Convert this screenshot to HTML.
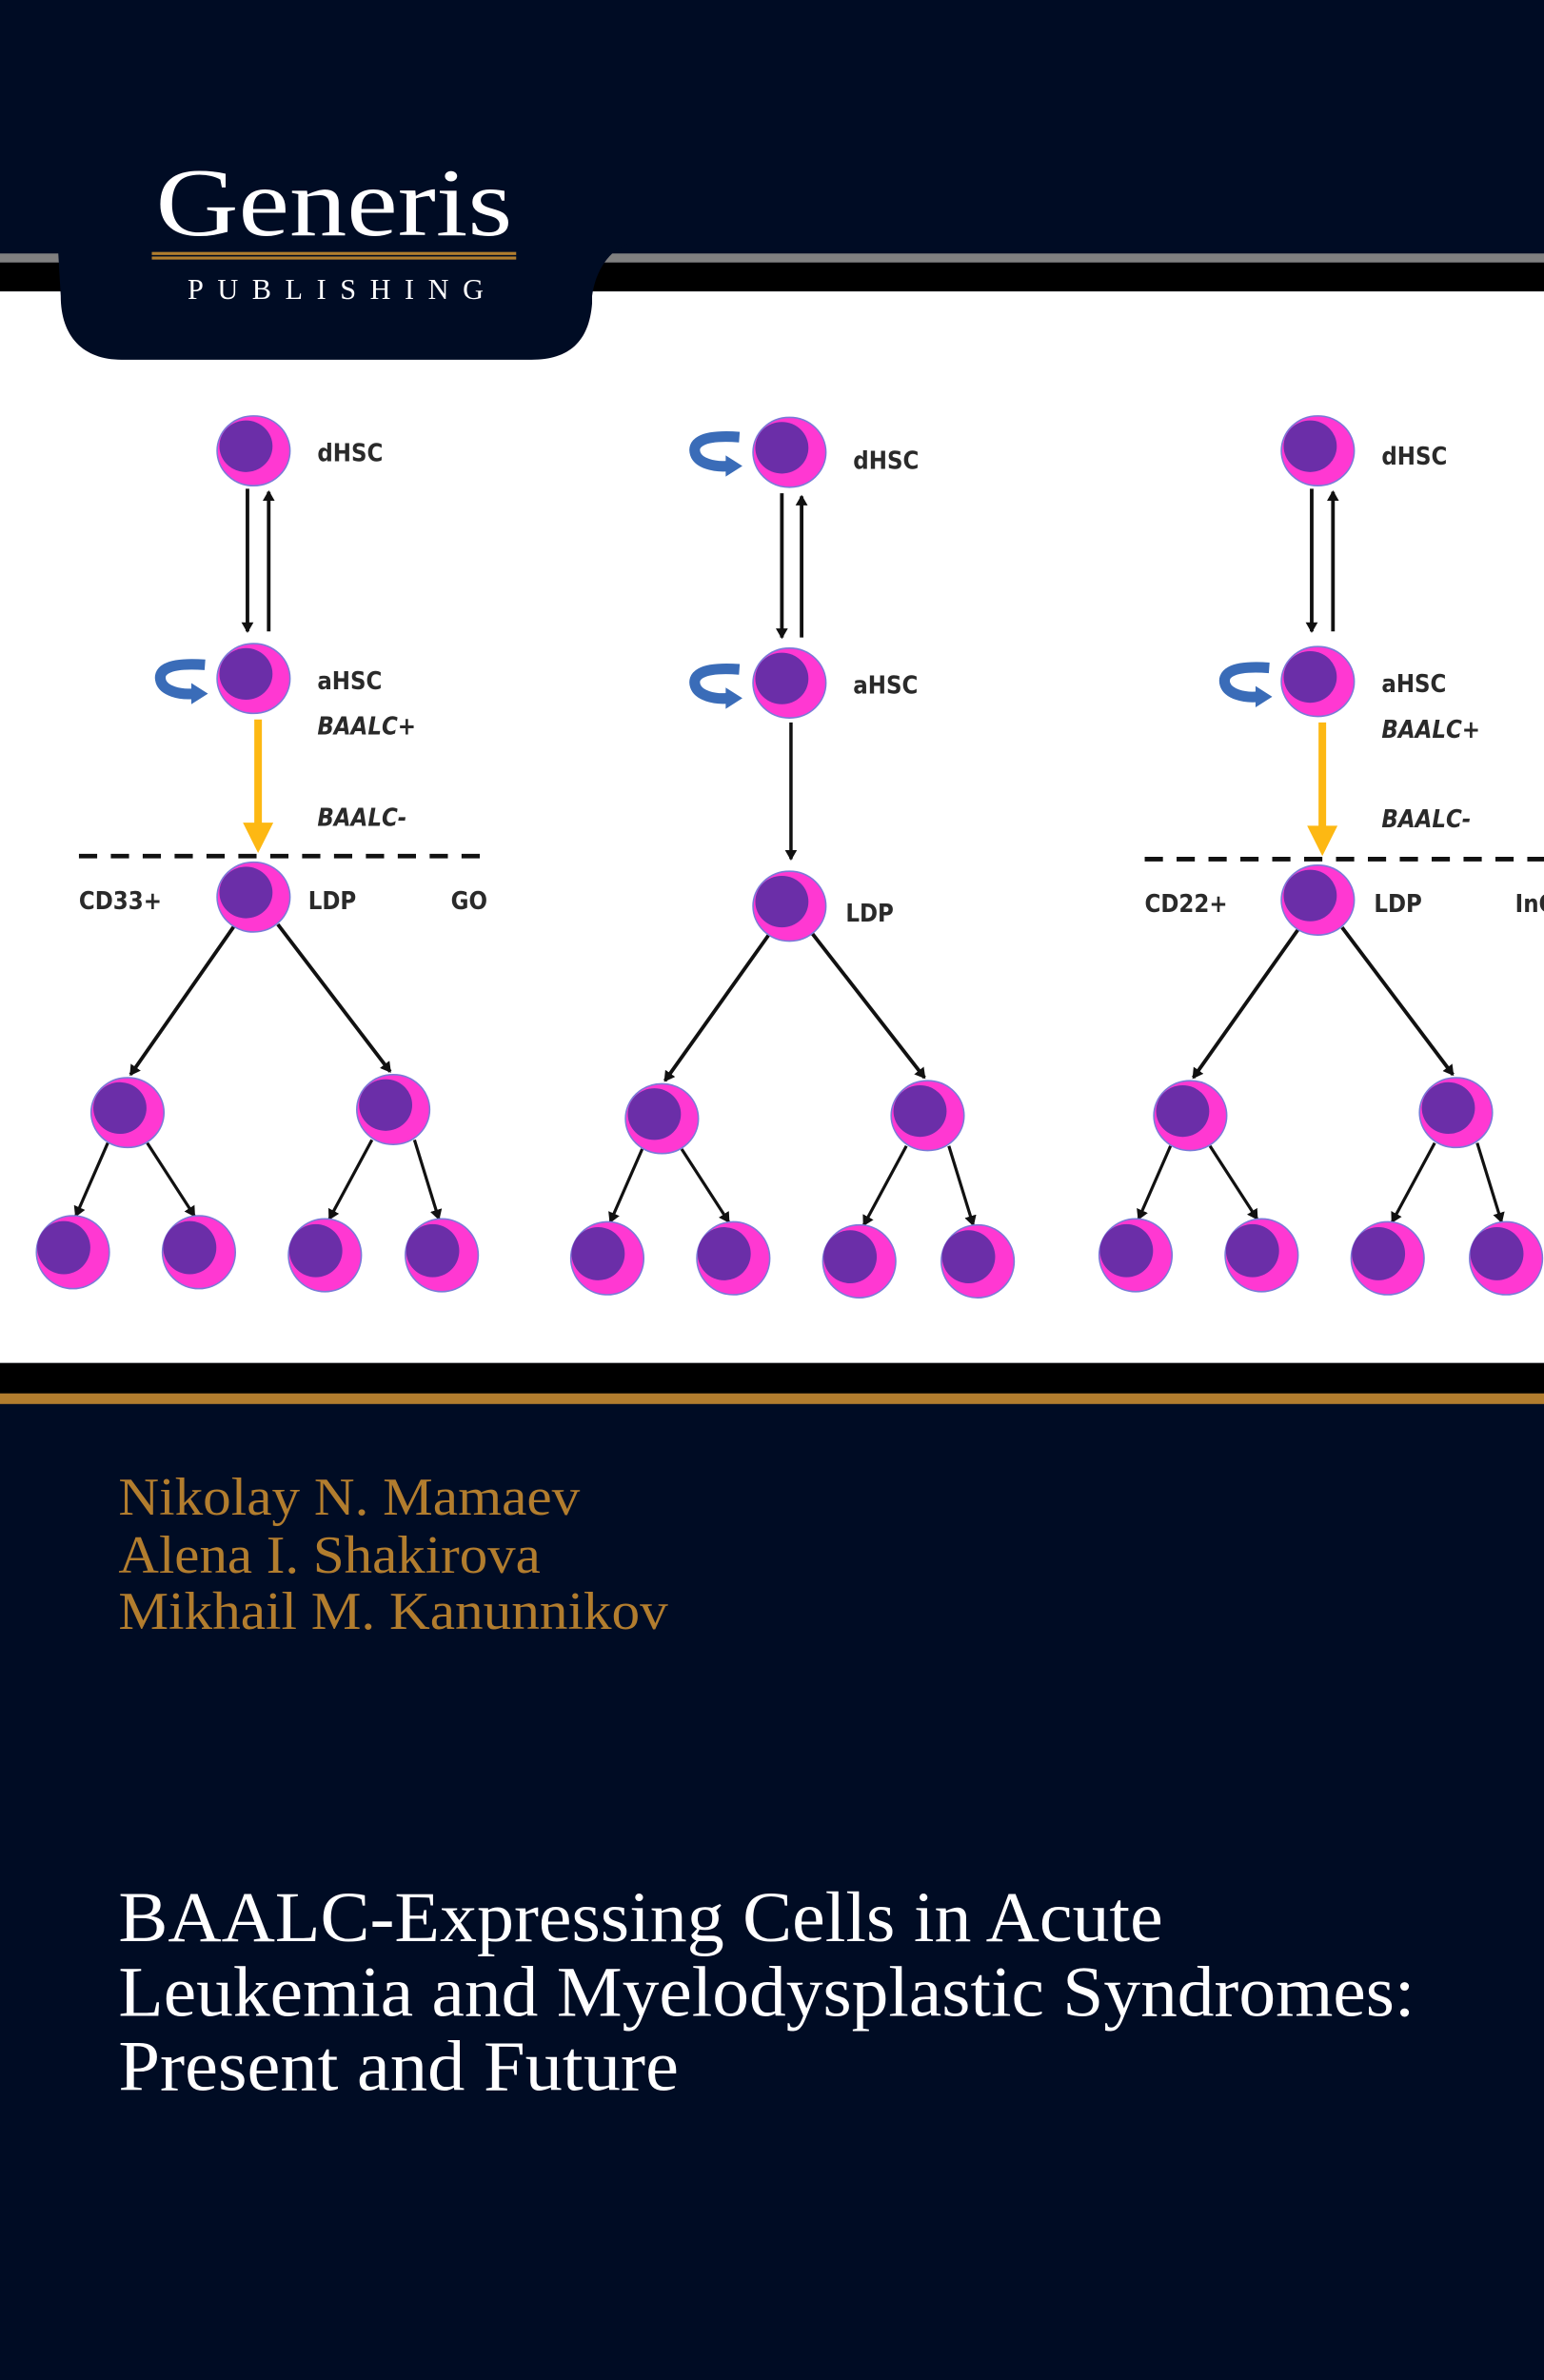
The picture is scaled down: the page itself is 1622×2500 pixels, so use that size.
<!DOCTYPE html>
<html><head><meta charset="utf-8"><style>
html,body{margin:0;padding:0;background:#000c24;}
svg{display:block;}
</style></head><body>
<svg width="1622" height="2500" viewBox="0 0 1017 1568" preserveAspectRatio="none" xmlns="http://www.w3.org/2000/svg">
<defs>
<marker id="ah" markerWidth="8" markerHeight="8" refX="6" refY="4" orient="auto" markerUnits="userSpaceOnUse"><path d="M0,0 L7,4 L0,8 z" fill="#111"/></marker>
<g id="cell"><ellipse cx="0" cy="0" rx="24" ry="23" fill="#ff38d2" stroke="#7a7ad8" stroke-width="1"/><ellipse cx="-5" cy="-3" rx="17.5" ry="17" fill="#6b2ea8"/></g>
<g id="cellb"><ellipse cx="0" cy="0" rx="24" ry="24" fill="#ff38d2" stroke="#7a7ad8" stroke-width="1"/><ellipse cx="-6" cy="-3" rx="17.5" ry="17.5" fill="#6b2ea8"/></g>
<g id="loop"><path d="M17,-11 C-10,-13 -14,-6 -12,0 C-10,6 0,9 10,8" fill="none" stroke="#3a6cb8" stroke-width="7"/><path d="M8,1 L19,8 L8,15 z" fill="#3a6cb8"/></g>
</defs>
<rect x="0" y="0" width="1017" height="1568" fill="#000c24"/>
<rect x="0" y="167" width="1017" height="6" fill="#808080"/>
<rect x="0" y="173" width="1017" height="19" fill="#000"/>
<rect x="0" y="192" width="1017" height="706" fill="#fff"/>
<rect x="0" y="898" width="1017" height="20" fill="#000"/>
<rect x="0" y="918" width="1017" height="7" fill="#b27d2e"/>
<path d="M38,160 L415,160 C400,165 392,180 390,195 L390,200 C388,225 375,237 350,237 L80,237 C55,237 40,222 40,195 Z" fill="#000c24"/>
<text x="220" y="155" text-anchor="middle" font-family="Liberation Serif, serif" font-size="64" fill="#fff" textLength="235" lengthAdjust="spacingAndGlyphs">Generis</text>
<rect x="100" y="166" width="240" height="2" fill="#b27d2e"/>
<rect x="100" y="169" width="240" height="2" fill="#b27d2e"/>
<text x="221" y="197" text-anchor="middle" font-family="Liberation Serif, serif" font-size="19" fill="#fff" textLength="195" lengthAdjust="spacing">PUBLISHING</text>

<g font-family="DejaVu Sans Condensed, DejaVu Sans, sans-serif" font-size="16" font-weight="bold" fill="#2a2a2a">
<line x1="163" y1="322" x2="163" y2="416" stroke="#111" stroke-width="2.4" marker-end="url(#ah)"/>
<line x1="177" y1="416" x2="177" y2="324" stroke="#111" stroke-width="2.4" marker-end="url(#ah)"/>
<line x1="170" y1="474" x2="170" y2="545" stroke="#fdb813" stroke-width="5"/>
<path d="M160,542 L180,542 L170,562 z" fill="#fdb813"/>
<line x1="52" y1="564" x2="318" y2="564" stroke="#111" stroke-width="3" stroke-dasharray="12,9"/>
<line x1="155" y1="609" x2="86" y2="708" stroke="#111" stroke-width="2.4" marker-end="url(#ah)"/>
<line x1="183" y1="609" x2="257" y2="706" stroke="#111" stroke-width="2.4" marker-end="url(#ah)"/>
<line x1="71" y1="753" x2="50" y2="801" stroke="#111" stroke-width="2" marker-end="url(#ah)"/>
<line x1="97" y1="753" x2="128" y2="801" stroke="#111" stroke-width="2" marker-end="url(#ah)"/>
<line x1="245" y1="751" x2="217" y2="803" stroke="#111" stroke-width="2" marker-end="url(#ah)"/>
<line x1="273" y1="751" x2="289" y2="803" stroke="#111" stroke-width="2" marker-end="url(#ah)"/>
<use href="#cell" x="167" y="297"/><use href="#cell" x="167" y="447"/><use href="#loop" x="118" y="449"/>
<use href="#cell" x="167" y="591"/>
<use href="#cell" x="84" y="733"/><use href="#cell" x="259" y="731"/>
<use href="#cellb" x="48" y="825"/><use href="#cellb" x="131" y="825"/><use href="#cellb" x="214" y="827"/><use href="#cellb" x="291" y="827"/>
<text x="209" y="304">dHSC</text><text x="209" y="454">aHSC</text>
<text x="209" y="484" font-style="italic">BAALC+</text><text x="209" y="544" font-style="italic">BAALC-</text>
<text x="52" y="599">CD33+</text><text x="203" y="599">LDP</text><text x="297" y="599">GO</text>

<line x1="515" y1="325" x2="515" y2="420" stroke="#111" stroke-width="2.4" marker-end="url(#ah)"/>
<line x1="528" y1="420" x2="528" y2="327" stroke="#111" stroke-width="2.4" marker-end="url(#ah)"/>
<line x1="521" y1="476" x2="521" y2="566" stroke="#111" stroke-width="2.2" marker-end="url(#ah)"/>
<line x1="507" y1="615" x2="438" y2="712" stroke="#111" stroke-width="2.4" marker-end="url(#ah)"/>
<line x1="535" y1="615" x2="609" y2="710" stroke="#111" stroke-width="2.4" marker-end="url(#ah)"/>
<line x1="423" y1="757" x2="402" y2="805" stroke="#111" stroke-width="2" marker-end="url(#ah)"/>
<line x1="449" y1="757" x2="480" y2="805" stroke="#111" stroke-width="2" marker-end="url(#ah)"/>
<line x1="597" y1="755" x2="569" y2="807" stroke="#111" stroke-width="2" marker-end="url(#ah)"/>
<line x1="625" y1="755" x2="641" y2="807" stroke="#111" stroke-width="2" marker-end="url(#ah)"/>
<use href="#cell" x="520" y="298"/><use href="#loop" x="470" y="299"/>
<use href="#cell" x="520" y="450"/><use href="#loop" x="470" y="452"/>
<use href="#cell" x="520" y="597"/>
<use href="#cell" x="436" y="737"/><use href="#cell" x="611" y="735"/>
<use href="#cellb" x="400" y="829"/><use href="#cellb" x="483" y="829"/><use href="#cellb" x="566" y="831"/><use href="#cellb" x="644" y="831"/>
<text x="562" y="309">dHSC</text><text x="562" y="457">aHSC</text><text x="557" y="607">LDP</text>

<line x1="864" y1="322" x2="864" y2="416" stroke="#111" stroke-width="2.4" marker-end="url(#ah)"/>
<line x1="878" y1="416" x2="878" y2="324" stroke="#111" stroke-width="2.4" marker-end="url(#ah)"/>
<line x1="871" y1="476" x2="871" y2="547" stroke="#fdb813" stroke-width="5"/>
<path d="M861,544 L881,544 L871,564 z" fill="#fdb813"/>
<line x1="754" y1="566" x2="1017" y2="566" stroke="#111" stroke-width="3" stroke-dasharray="12,9"/>
<line x1="856" y1="611" x2="786" y2="710" stroke="#111" stroke-width="2.4" marker-end="url(#ah)"/>
<line x1="884" y1="611" x2="957" y2="708" stroke="#111" stroke-width="2.4" marker-end="url(#ah)"/>
<line x1="771" y1="755" x2="750" y2="803" stroke="#111" stroke-width="2" marker-end="url(#ah)"/>
<line x1="797" y1="755" x2="828" y2="803" stroke="#111" stroke-width="2" marker-end="url(#ah)"/>
<line x1="945" y1="753" x2="917" y2="805" stroke="#111" stroke-width="2" marker-end="url(#ah)"/>
<line x1="973" y1="753" x2="989" y2="805" stroke="#111" stroke-width="2" marker-end="url(#ah)"/>
<use href="#cell" x="868" y="297"/><use href="#cell" x="868" y="449"/><use href="#loop" x="819" y="451"/>
<use href="#cell" x="868" y="593"/>
<use href="#cell" x="784" y="735"/><use href="#cell" x="959" y="733"/>
<use href="#cellb" x="748" y="827"/><use href="#cellb" x="831" y="827"/><use href="#cellb" x="914" y="829"/><use href="#cellb" x="992" y="829"/>
<text x="910" y="306">dHSC</text><text x="910" y="456">aHSC</text>
<text x="910" y="486" font-style="italic">BAALC+</text><text x="910" y="545" font-style="italic">BAALC-</text>
<text x="754" y="601">CD22+</text><text x="905" y="601">LDP</text><text x="998" y="601">InO</text>
</g>

<g font-family="Liberation Serif, serif" fill="#b27d2e" font-size="35">
<text x="78" y="998" textLength="304" lengthAdjust="spacingAndGlyphs">Nikolay N. Mamaev</text>
<text x="78" y="1036" textLength="278" lengthAdjust="spacingAndGlyphs">Alena I. Shakirova</text>
<text x="78" y="1073" textLength="362" lengthAdjust="spacingAndGlyphs">Mikhail M. Kanunnikov</text>
</g>
<g font-family="Liberation Serif, serif" fill="#fff" font-size="47">
<text x="78" y="1279" textLength="688" lengthAdjust="spacingAndGlyphs">BAALC-Expressing Cells in Acute</text>
<text x="78" y="1328" textLength="854" lengthAdjust="spacingAndGlyphs">Leukemia and Myelodysplastic Syndromes:</text>
<text x="78" y="1377" textLength="369" lengthAdjust="spacingAndGlyphs">Present and Future</text>
</g>
</svg>
</body></html>
